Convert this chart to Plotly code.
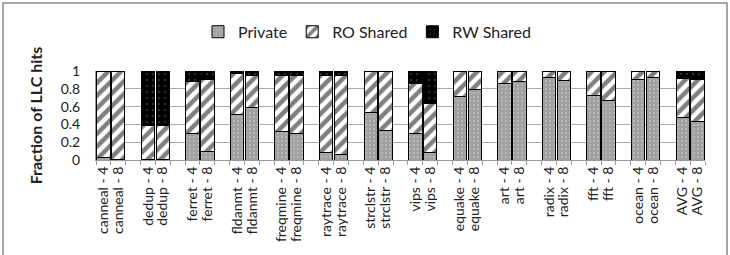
import plotly.graph_objects as go

benchmarks = ["canneal", "dedup", "ferret", "fldanmt", "freqmine", "raytrace", "strclstr",
              "vips", "equake", "art", "radix", "fft", "ocean", "AVG"]
configs = ["4", "8"]

# values per bar, order: bench-4, bench-8 for each benchmark
private = [0.03, 0.01, 0.01, 0.01, 0.30, 0.09, 0.51, 0.585, 0.315, 0.30, 0.085, 0.067,
           0.537, 0.333, 0.30, 0.085, 0.715, 0.79, 0.863, 0.88, 0.93, 0.89, 0.72, 0.67,
           0.90, 0.93, 0.48, 0.43]
ro_shared = [0.97, 0.99, 0.38, 0.38, 0.58, 0.81, 0.457, 0.37, 0.64, 0.655, 0.86, 0.878,
             0.463, 0.667, 0.563, 0.555, 0.285, 0.21, 0.137, 0.12, 0.07, 0.11, 0.28, 0.33,
             0.10, 0.07, 0.435, 0.47]
rw_shared = [0.0, 0.0, 0.61, 0.61, 0.12, 0.10, 0.033, 0.045, 0.045, 0.045, 0.055, 0.055,
             0.0, 0.0, 0.137, 0.36, 0.0, 0.0, 0.0, 0.0, 0.0, 0.0, 0.0, 0.0,
             0.0, 0.0, 0.085, 0.10]

labels = []
xpos = []
for g, b in enumerate(benchmarks):
    for k, c in enumerate(configs):
        labels.append(f"{b} - {c}")
        xpos.append(3 * g + k)

font_family = "Lato, 'Liberation Sans', Arial, sans-serif"
line = dict(color="black", width=1)
w = 0.9

fig = go.Figure()
fig.add_trace(go.Bar(
    x=xpos, y=private, name="Private", width=w,
    marker=dict(color="#a0a0a0", line=line,
                pattern=dict(shape=".", fgcolor="#cfcfcf", bgcolor="#a0a0a0", size=4, solidity=0.25)),
))
fig.add_trace(go.Bar(
    x=xpos, y=ro_shared, name="RO Shared", width=w,
    marker=dict(color="white", line=line,
                pattern=dict(shape="/", fgcolor="black", bgcolor="white", size=9, solidity=0.5)),
))
fig.add_trace(go.Bar(
    x=xpos, y=rw_shared, name="RW Shared", width=w,
    marker=dict(color="black", line=line,
                pattern=dict(shape=".", fgcolor="#555555", bgcolor="black", size=6, solidity=0.15)),
))

fig.update_layout(
    barmode="stack",
    width=730, height=255,
    margin=dict(l=96, r=25, t=71, b=95),
    paper_bgcolor="white", plot_bgcolor="white",
    font=dict(family=font_family, color="black"),
    legend=dict(orientation="h", x=0.445, xanchor="center", y=1.44, yanchor="middle",
                font=dict(size=16, color="#222"), traceorder="normal",
                itemwidth=30),
    showlegend=True,
)
fig.update_xaxes(
    range=[-0.5, 40.5], tickmode="array", tickvals=xpos, ticktext=labels,
    tickangle=-90, tickfont=dict(size=14, color="#222"), ticks="", automargin=False,
    showgrid=False, zeroline=False, showline=True, linecolor="#999", linewidth=1,
    minor=dict(ticks="outside", tickmode="linear", tick0=-0.5, dtick=1, ticklen=4,
               tickcolor="#999", showgrid=False),
    fixedrange=True,
)
fig.update_yaxes(
    range=[0, 1], tickvals=[0, 0.2, 0.4, 0.6, 0.8, 1], ticktext=["0", "0.2", "0.4", "0.6", "0.8", "1"],
    tickfont=dict(size=14, color="#222"), ticks="", ticklabelstandoff=12, automargin=False,
    showgrid=True, gridcolor="#aaa", gridwidth=1, zeroline=False,
    showline=True, linecolor="#999", linewidth=1,
    title=dict(text="<b>Fraction of LLC hits</b>", font=dict(size=16, color="#222"), standoff=14),
)
fig.add_shape(type="rect", xref="paper", yref="paper",
              x0=(3 - 96) / 609, x1=(727 - 96) / 609, y0=(160 - 262) / 89, y1=(160 - 3) / 89,
              line=dict(color="#888", width=1.5), fillcolor="rgba(0,0,0,0)", layer="below")

fig.write_html("out.html")
